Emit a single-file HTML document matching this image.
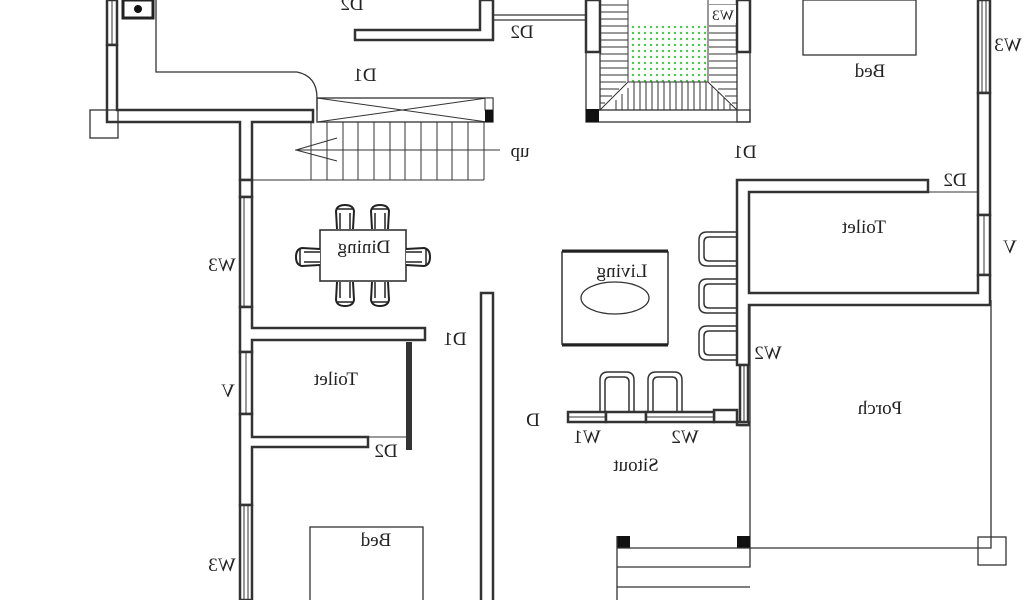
<!DOCTYPE html>
<html><head><meta charset="utf-8"><style>
html,body{margin:0;padding:0;background:#fff}
svg{display:block}
text{font-family:"Liberation Serif",serif;font-size:19px;fill:#222}
.w{fill:#fff;stroke:#333;stroke-width:2.5}
.t{fill:none;stroke:#333;stroke-width:1.3}
.h{stroke:#333;stroke-width:1}
</style></head><body>
<svg width="1024" height="600" viewBox="0 0 1024 600" xmlns="http://www.w3.org/2000/svg">
<defs>
<pattern id="dots" width="6" height="6" patternUnits="userSpaceOnUse"><circle cx="3" cy="3" r="1.2" fill="#4c4"/></pattern>
<g id="chairT"><path d="M2,24 L1,6 Q2,0 10,0 Q18,0 19,6 L18,24" fill="#fff" stroke="#222" stroke-width="2"/><path d="M5,24 L5,8 M15,24 L15,8 M2,4 L18,4" stroke="#222" stroke-width="1.5"/></g>
<g id="arm"><path d="M40,3 L10,3 Q2,3 2,11 L2,29 Q2,37 10,37 L40,37" fill="none" stroke="#333" stroke-width="1.5"/><path d="M40,8 L12,8 Q7,8 7,13 L7,27 Q7,32 12,32 L40,32" fill="none" stroke="#333" stroke-width="1.5"/></g>
<g id="armU"><path d="M3,40 L3,8 Q3,0 11,0 L29,0 Q37,0 37,8 L37,40" fill="none" stroke="#333" stroke-width="1.5"/><path d="M8,40 L8,10 Q8,5 13,5 L27,5 Q32,5 32,10 L32,40" fill="none" stroke="#333" stroke-width="1.5"/></g>
</defs>

<!-- top-left -->
<rect class="w" x="107" y="0" width="10" height="45"/><line class="h" x1="112" y1="0" x2="112" y2="45"/>
<path class="w" d="M107,45 L117,45 L117,110 L313,110 L313,122 L252,122 L252,180 L240,180 L240,122 L107,122 Z"/>
<rect class="t" x="90" y="110" width="28" height="28"/>
<rect x="123" y="0" width="30" height="18" fill="#fff" stroke="#222" stroke-width="3"/>
<circle cx="138" cy="9" r="4" fill="#111"/>
<path class="t" d="M156,0 L156,72 L297,72 Q317,76 317,98 L317,110"/>
<!-- stair landing -->
<rect class="t" x="317" y="98" width="176" height="24"/>
<path class="h" d="M317,98 L487,122 M317,122 L487,98"/>
<rect x="485" y="98" width="8" height="12" fill="#fff" stroke="#333"/>
<rect x="485" y="110" width="8" height="12" fill="#111"/>
<g class="h">
<line x1="311" y1="122" x2="311" y2="180"/><line x1="327" y1="122" x2="327" y2="180"/><line x1="343" y1="122" x2="343" y2="180"/><line x1="358" y1="122" x2="358" y2="180"/><line x1="374" y1="122" x2="374" y2="180"/><line x1="390" y1="122" x2="390" y2="180"/><line x1="405" y1="122" x2="405" y2="180"/><line x1="421" y1="122" x2="421" y2="180"/><line x1="437" y1="122" x2="437" y2="180"/><line x1="452" y1="122" x2="452" y2="180"/><line x1="468" y1="122" x2="468" y2="180"/><line x1="484" y1="122" x2="484" y2="180"/>
<line x1="252" y1="180" x2="484" y2="180"/>
<line x1="295" y1="150" x2="500" y2="150"/><line x1="296" y1="150" x2="337" y2="138"/><line x1="296" y1="150" x2="337" y2="161"/>
</g>
<text transform="translate(520,157) scale(-1,1)" text-anchor="middle">up</text>
<text transform="translate(365,81) scale(-1,1)" text-anchor="middle">D1</text>
<!-- D2 box top -->
<path class="w" d="M355,30 L480,30 L480,0 L493,0 L493,40 L355,40 Z"/>
<path class="t" d="M493,15 L586,15 M493,20 L586,20"/>
<text transform="translate(352,10) scale(-1,1)" text-anchor="middle">D2</text>
<text transform="translate(522,38) scale(-1,1)" text-anchor="middle">D2</text>

<!-- court -->
<rect class="w" x="586" y="0" width="14" height="52"/>
<rect class="t" x="586" y="52" width="14" height="58"/>
<rect class="w" x="737" y="0" width="13" height="52"/>
<rect class="t" x="737" y="52" width="13" height="70"/>
<rect class="t" x="586" y="110" width="164" height="12"/>
<rect x="586" y="109" width="13" height="13" fill="#111"/>
<rect x="628" y="25" width="80" height="57" fill="url(#dots)"/>
<g class="h">
<line x1="600" y1="0" x2="600" y2="110"/><line x1="628" y1="0" x2="628" y2="82"/><line x1="708" y1="0" x2="708" y2="82"/><line x1="737" y1="0" x2="737" y2="110"/>
<line x1="628" y1="82" x2="708" y2="82"/><line x1="600" y1="110" x2="628" y2="82"/><line x1="737" y1="110" x2="708" y2="82"/>
</g>
<g class="h" id="hl">
<line x1="600" y1="5" x2="628" y2="5"/><line x1="600" y1="12" x2="628" y2="12"/><line x1="600" y1="19" x2="628" y2="19"/><line x1="600" y1="26" x2="628" y2="26"/><line x1="600" y1="33" x2="628" y2="33"/><line x1="600" y1="40" x2="628" y2="40"/><line x1="600" y1="47" x2="628" y2="47"/><line x1="600" y1="54" x2="628" y2="54"/><line x1="600" y1="61" x2="628" y2="61"/><line x1="600" y1="68" x2="628" y2="68"/><line x1="600" y1="75" x2="628" y2="75"/><line x1="600" y1="82" x2="626" y2="82"/><line x1="600" y1="89" x2="619" y2="89"/><line x1="600" y1="96" x2="612" y2="96"/><line x1="600" y1="103" x2="605" y2="103"/>
</g>
<use href="#hl" transform="translate(1337,0) scale(-1,1)"/>
<g class="h">
<line x1="634" y1="82" x2="634" y2="110"/><line x1="640" y1="82" x2="640" y2="110"/><line x1="646" y1="82" x2="646" y2="110"/><line x1="652" y1="82" x2="652" y2="110"/><line x1="658" y1="82" x2="658" y2="110"/><line x1="664" y1="82" x2="664" y2="110"/><line x1="670" y1="82" x2="670" y2="110"/><line x1="676" y1="82" x2="676" y2="110"/><line x1="682" y1="82" x2="682" y2="110"/><line x1="688" y1="82" x2="688" y2="110"/><line x1="694" y1="82" x2="694" y2="110"/><line x1="700" y1="82" x2="700" y2="110"/><line x1="706" y1="82" x2="706" y2="110"/><line x1="628" y1="88" x2="628" y2="110"/><line x1="622" y1="94" x2="622" y2="110"/><line x1="616" y1="100" x2="616" y2="110"/><line x1="712" y1="86" x2="712" y2="110"/><line x1="718" y1="92" x2="718" y2="110"/><line x1="724" y1="98" x2="724" y2="110"/><line x1="730" y1="104" x2="730" y2="110"/>
</g>
<rect x="709" y="5" width="27" height="18" fill="#fff"/>
<text transform="translate(723,20) scale(-1,1)" text-anchor="middle" style="font-size:15px">W3</text>
<text transform="translate(745,158) scale(-1,1)" text-anchor="middle">D1</text>

<!-- upper right bed -->
<rect class="t" x="803" y="0" width="113" height="55"/>
<text transform="translate(870,77) scale(-1,1)" text-anchor="middle">Bed</text>
<!-- right wall -->
<rect class="w" x="978" y="0" width="12" height="93"/><line class="h" x1="982" y1="0" x2="982" y2="93"/><line class="h" x1="986" y1="0" x2="986" y2="93"/>
<rect class="w" x="978" y="93" width="12" height="122"/>
<rect class="w" x="978" y="215" width="12" height="60"/><line class="h" x1="984" y1="215" x2="984" y2="275"/>
<text transform="translate(1008,51) scale(-1,1)" text-anchor="middle">W3</text>
<text transform="translate(1010,253) scale(-1,1)" text-anchor="middle">V</text>
<text transform="translate(955,186) scale(-1,1)" text-anchor="middle">D2</text>
<line class="h" x1="928" y1="192" x2="978" y2="192"/>
<!-- right toilet -->
<path class="w" d="M737,180 L928,180 L928,192 L749,192 L749,293 L978,293 L978,275 L990,275 L990,305 L749,305 L749,365 L737,365 Z"/>
<text transform="translate(864,233) scale(-1,1)" text-anchor="middle">Toilet</text>
<rect class="w" x="740" y="365" width="8" height="60"/><line class="h" x1="744" y1="365" x2="744" y2="425"/>
<path class="w" d="M737,425 L749,425 L749,422 L714,422 L714,410 L737,410 Z"/>
<text transform="translate(768,359) scale(-1,1)" text-anchor="middle">W2</text>
<!-- sitout front wall -->
<rect class="w" x="568" y="412" width="38" height="10"/>
<rect class="w" x="606" y="412" width="40" height="10"/>
<rect class="w" x="646" y="412" width="68" height="10"/>
<line class="h" x1="568" y1="417" x2="606" y2="417"/><line class="h" x1="646" y1="417" x2="714" y2="417"/>
<text transform="translate(587,443) scale(-1,1)" text-anchor="middle">W1</text>
<text transform="translate(685,443) scale(-1,1)" text-anchor="middle">W2</text>
<text transform="translate(533,426) scale(-1,1)" text-anchor="middle">D</text>
<text transform="translate(636,471) scale(-1,1)" text-anchor="middle">Sitout</text>
<!-- porch -->
<path class="t" d="M750,305 L750,548 M991,300 L991,548 L750,548"/>
<rect class="t" x="978" y="537" width="28" height="28"/>
<text transform="translate(880,414) scale(-1,1)" text-anchor="middle">Porch</text>
<rect x="617" y="536" width="13" height="12" fill="#111"/><rect x="737" y="536" width="13" height="12" fill="#111"/>
<path class="t" d="M617,548 L750,548 M617,567 L750,567 L750,548 M617,587 L750,587 M617,536 L617,600"/>
<!-- living -->
<rect class="t" x="562" y="252" width="106" height="92" style="stroke-width:1.5"/>
<line x1="562" y1="251" x2="668" y2="251" stroke="#222" stroke-width="3"/>
<line x1="562" y1="345" x2="668" y2="345" stroke="#222" stroke-width="3"/>
<ellipse class="t" cx="615" cy="298" rx="34" ry="16"/>
<text transform="translate(622,277) scale(-1,1)" text-anchor="middle">Living</text>
<use href="#arm" transform="translate(697,229)"/>
<use href="#arm" transform="translate(697,276)"/>
<use href="#arm" transform="translate(697,323)"/>
<use href="#armU" transform="translate(597,372)"/>
<use href="#armU" transform="translate(645,372)"/>

<!-- left wall -->
<rect class="w" x="240" y="180" width="12" height="17"/>
<rect class="w" x="240" y="197" width="12" height="110"/><line class="h" x1="244" y1="197" x2="244" y2="307"/>
<path class="w" d="M240,307 L252,307 L252,328 L425,328 L425,340 L252,340 L252,352 L240,352 Z"/>
<rect class="w" x="240" y="352" width="12" height="62"/><line class="h" x1="246" y1="352" x2="246" y2="414"/>
<path class="w" d="M240,414 L252,414 L252,437 L368,437 L368,447 L252,447 L252,505 L240,505 Z"/>
<rect class="w" x="240" y="505" width="12" height="95"/><line class="h" x1="244" y1="505" x2="244" y2="600"/><line class="h" x1="248" y1="505" x2="248" y2="600"/>
<rect x="406" y="342" width="6" height="108" fill="#333"/>
<line class="h" x1="368" y1="437" x2="406" y2="437"/>
<text transform="translate(222,271) scale(-1,1)" text-anchor="middle">W3</text>
<text transform="translate(228,397) scale(-1,1)" text-anchor="middle">V</text>
<text transform="translate(222,571) scale(-1,1)" text-anchor="middle">W3</text>
<text transform="translate(336,385) scale(-1,1)" text-anchor="middle">Toilet</text>
<text transform="translate(455,345) scale(-1,1)" text-anchor="middle">D1</text>
<text transform="translate(386,457) scale(-1,1)" text-anchor="middle">D2</text>
<rect class="w" x="481" y="293" width="12" height="310"/>
<rect class="t" x="310" y="527" width="113" height="80"/>
<text transform="translate(376,546) scale(-1,1)" text-anchor="middle">Bed</text>
<!-- dining -->
<rect class="t" x="320" y="230" width="86" height="51" style="stroke-width:1.6"/>
<text transform="translate(364,253) scale(-1,1)" text-anchor="middle">Dining</text>
<use href="#chairT" transform="translate(335,205)"/>
<use href="#chairT" transform="translate(370,205)"/>
<use href="#chairT" transform="translate(355,306) scale(-1,-1)"/>
<use href="#chairT" transform="translate(390,306) scale(-1,-1)"/>
<use href="#chairT" transform="translate(296,267) rotate(-90)"/>
<use href="#chairT" transform="translate(430,247) rotate(90)"/>
</svg>
</body></html>
